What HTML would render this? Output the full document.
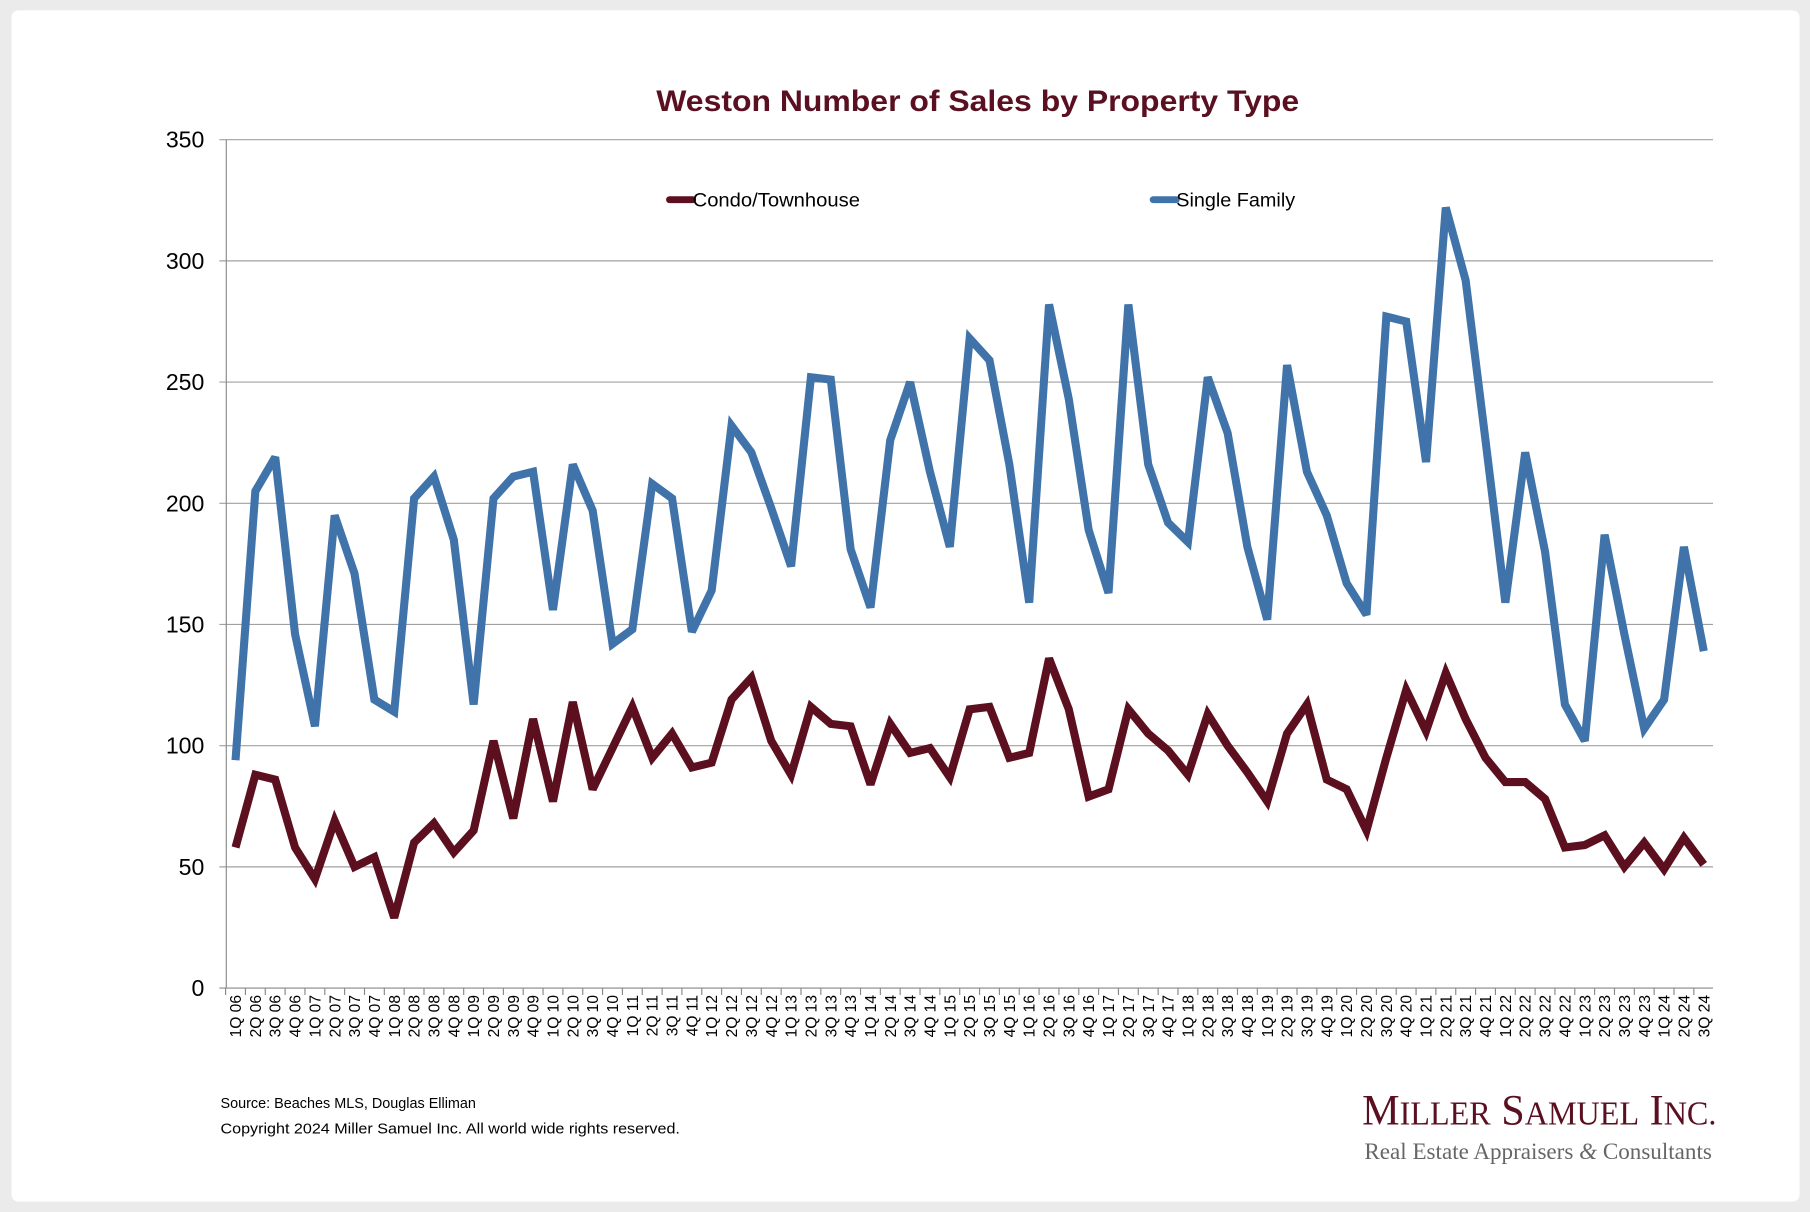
<!DOCTYPE html>
<html><head><meta charset="utf-8"><style>
html,body{margin:0;padding:0;background:#ebebeb;}
svg{display:block;}
</style></head><body>
<svg id="s" width="1810" height="1212" viewBox="0 0 1568 1050" xmlns="http://www.w3.org/2000/svg" font-family="Liberation Sans, Arial, sans-serif">
<rect x="0" y="0" width="1568" height="1050" fill="#ebebeb"/>
<rect x="10" y="9" width="1549" height="1032" rx="6" fill="#ffffff"/>
<text x="847" y="96" text-anchor="middle" font-size="26" font-weight="bold" fill="#5a1020" textLength="557" lengthAdjust="spacingAndGlyphs">Weston Number of Sales by Property Type</text>
<g id="grid"></g>
<line x1="196" y1="121" x2="196" y2="856" stroke="#888" stroke-width="1"/>
<g id="lines"></g>
<line x1="580" y1="173" x2="600" y2="173" stroke="#5c0f1e" stroke-width="6" stroke-linecap="round"/>
<text x="600" y="179" font-size="16.5" fill="#000" textLength="145" lengthAdjust="spacingAndGlyphs">Condo/Townhouse</text>
<line x1="999" y1="173" x2="1019" y2="173" stroke="#3f73aa" stroke-width="6" stroke-linecap="round"/>
<text x="1019" y="179" font-size="16.5" fill="#000" textLength="103" lengthAdjust="spacingAndGlyphs">Single Family</text>
<text x="191" y="960" font-size="12.5" fill="#000">Source: Beaches MLS, Douglas Elliman</text>
<text x="191" y="982" font-size="12.5" fill="#000" textLength="398" lengthAdjust="spacingAndGlyphs">Copyright 2024 Miller Samuel Inc.  All world wide rights reserved.</text>
<text x="1180" y="974" font-family="Liberation Serif, serif" font-size="38" fill="#5a1020" textLength="307" lengthAdjust="spacingAndGlyphs">M<tspan font-size="29">ILLER</tspan> S<tspan font-size="29">AMUEL</tspan> I<tspan font-size="29">NC.</tspan></text>
<text x="1182" y="1004" font-family="Liberation Serif, serif" font-size="20" fill="#666" textLength="301" lengthAdjust="spacingAndGlyphs">Real Estate Appraisers <tspan font-style="italic">&amp;</tspan> Consultants</text>
</svg>
<script>
var sf=[94,205,219,146,108,195,171,119,114,202,211,185,117,202,211,213,156,216,197,142,148,208,202,147,164,232,221,198,174,252,251,181,157,226,250,213,182,268,259,216,159,282,243,189,163,282,216,192,184,252,229,182,152,257,213,195,167,154,277,275,217,322,292,226,159,221,180,117,102,187,146,107,119,182,139];
var cd=[58,88,86,58,45,69,50,54,29,60,68,56,65,102,70,111,77,118,82,99,116,95,105,91,93,119,128,102,88,116,109,108,84,109,97,99,87,115,116,95,97,136,115,79,82,115,105,98,88,113,100,89,77,105,117,86,82,65,95,123,106,130,111,95,85,85,78,58,59,63,50,60,49,62,51];
var NS="http://www.w3.org/2000/svg";
function X(i){return 204+i*1272/74;}
function Y(v){return 856-v*2.1;}
function el(t,a,p,txt){var e=document.createElementNS(NS,t);for(var k in a)e.setAttribute(k,a[k]);if(txt!==undefined)e.textContent=txt;p.appendChild(e);return e;}
var g=document.getElementById('grid'),L=document.getElementById('lines');
for(var v=0;v<=350;v+=50){var y=Y(v);el('line',{x1:190,y1:y,x2:1484,y2:y,stroke:v==0?'#888':'#a0a0a0','stroke-width':1},g);
el('text',{x:177,y:y+7,'text-anchor':'end','font-size':20,fill:'#000'},g,String(v));}
var q=0,yr=6;
for(var i=0;i<75;i++){var lab=(q+1)+'Q '+(yr<10?'0'+yr:yr);q++;if(q==4){q=0;yr++;}
var x=X(i);el('line',{x1:x-8.6,y1:856,x2:x-8.6,y2:862,stroke:'#888'},g);
el('text',{x:0,y:0,transform:'translate('+(x+4.8)+',862) rotate(-90)','text-anchor':'end','font-size':13.5,fill:'#000'},g,lab);}
function pl(d,c){var p=d.map(function(v,i){return X(i).toFixed(1)+','+Y(v).toFixed(1);}).join(' ');
el('polyline',{points:p,fill:'none',stroke:c,'stroke-width':7,'stroke-linejoin':'miter','stroke-miterlimit':3},L);}
pl(sf,'#3f73aa');pl(cd,'#5c0f1e');
</script>
</body></html>
